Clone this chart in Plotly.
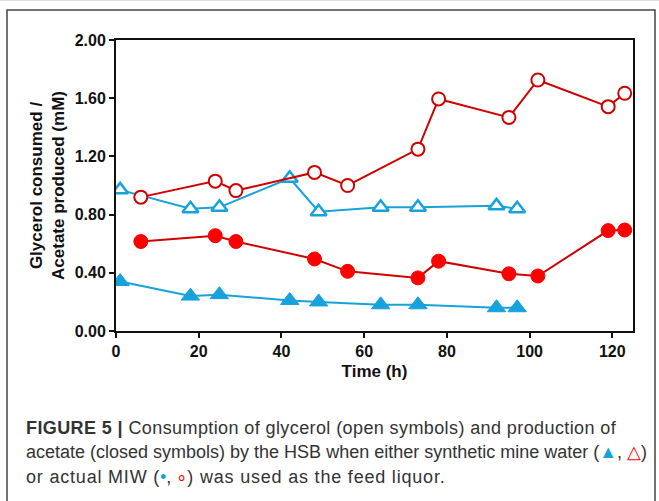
import plotly.graph_objects as go

# Data
time_syn = [1, 18, 25, 42, 49, 64, 73, 92, 97]
glyc_syn = [0.97, 0.84, 0.85, 1.05, 0.82, 0.85, 0.85, 0.86, 0.84]
acet_syn = [0.34, 0.24, 0.25, 0.21, 0.20, 0.18, 0.18, 0.16, 0.16]

time_miw = [6, 24, 29, 48, 56, 73, 78, 95, 102, 119, 123]
glyc_miw = [0.92, 1.03, 0.965, 1.09, 1.00, 1.25, 1.595, 1.468, 1.725, 1.542, 1.634]
acet_miw = [0.615, 0.655, 0.615, 0.495, 0.41, 0.365, 0.48, 0.393, 0.378, 0.69, 0.694]

y_ticks = [0, 0.4, 0.8, 1.2, 1.6, 2.0]
x_ticks = [0, 20, 40, 60, 80, 100, 120]

RED_LINE = "#d00000"
RED_FILL = "#ff0000"
CYAN = "#17a2dc"

W, H = 659, 501
L, R, T, B = 116, 633, 40, 331


def px(x):
    return (x - L) / (R - L)


def py(y):
    return (B - y) / (B - T)


fig = go.Figure()

fig.add_trace(go.Scatter(
    x=time_syn, y=glyc_syn, mode="lines+markers", name="Glycerol (synthetic)",
    line=dict(color=CYAN, width=2),
    marker=dict(symbol="triangle-up", size=14, color="white",
                line=dict(color=CYAN, width=2.5)),
))
fig.add_trace(go.Scatter(
    x=time_syn, y=acet_syn, mode="lines+markers", name="Acetate (synthetic)",
    line=dict(color=CYAN, width=2),
    marker=dict(symbol="triangle-up", size=16, color=CYAN,
                line=dict(color=CYAN, width=1)),
))
fig.add_trace(go.Scatter(
    x=time_miw, y=glyc_miw, mode="lines+markers", name="Glycerol (MIW)",
    line=dict(color=RED_LINE, width=2),
    marker=dict(symbol="circle", size=13, color="white",
                line=dict(color=RED_LINE, width=2)),
))
fig.add_trace(go.Scatter(
    x=time_miw, y=acet_miw, mode="lines+markers", name="Acetate (MIW)",
    line=dict(color=RED_LINE, width=2),
    marker=dict(symbol="circle", size=14, color=RED_FILL,
                line=dict(color=RED_FILL, width=1)),
))

axis_font = dict(family="Arial, Liberation Sans", size=16, color="#111")
title_font = dict(family="Arial, Liberation Sans", size=17, color="#111")

fig.update_layout(
    width=W, height=H,
    margin=dict(l=L, r=W - R, t=T, b=H - B),
    plot_bgcolor="white", paper_bgcolor="white",
    showlegend=False,
    font=dict(family="Arial, Liberation Sans", color="#111"),
    xaxis=dict(
        range=[0, 125], tickvals=x_ticks,
        ticktext=[f"<b>{v}</b>" for v in x_ticks],
        ticks="outside", ticklen=5, tickwidth=1.5, tickcolor="#111",
        showline=True, linecolor="#111", linewidth=2, mirror=True,
        showgrid=False, zeroline=False, tickfont=axis_font,
        title=dict(text="<b>Time (h)</b>", font=title_font, standoff=6),
    ),
    yaxis=dict(
        range=[0, 2.0], tickvals=y_ticks,
        ticktext=[f"<b>{v:.2f}</b>" for v in y_ticks],
        ticks="outside", ticklen=5, tickwidth=1.5, tickcolor="#111",
        showline=True, linecolor="#111", linewidth=2, mirror=True,
        showgrid=False, zeroline=False, tickfont=axis_font,
        title=dict(text="<b>Glycerol consumed /<br>Acetate produced (mM)</b>",
                   font=title_font, standoff=6),
    ),
)

# Outer frame
fig.add_shape(type="rect", xref="paper", yref="paper",
              x0=px(7), x1=px(655), y0=py(530), y1=py(10),
              line=dict(color="#444", width=1.5), fillcolor="rgba(0,0,0,0)", layer="below")
# faint top line
fig.add_shape(type="line", xref="paper", yref="paper",
              x0=px(0), x1=px(659), y0=py(0.5), y1=py(0.5),
              line=dict(color="#ddd", width=1), layer="below")

cap_font = dict(family="Liberation Sans, Arial", size=18, color="#333")
caption = [
    "<span style='letter-spacing:0.4px'><b>FIGURE 5 |</b> Consumption of glycerol (open symbols) and production of</span>",
    "acetate (closed symbols) by the HSB when either synthetic mine water "
    f"(<span style='color:{CYAN}'>▲</span>, <span style='color:{RED_FILL}'>△</span>)",
    f"<span style='letter-spacing:0.8px'>or actual MIW (</span><span style='color:{CYAN}'>•</span>, "
    f"<span style='color:{RED_FILL}'>∘</span><span style='letter-spacing:0.8px'>) was used as the feed liquor.</span>",
]
for i, (line, ypx) in enumerate(zip(caption, [428, 452, 477])):
    fig.add_annotation(text=line, xref="paper", yref="paper",
                       x=px(24), y=py(ypx), xanchor="left", yanchor="middle",
                       showarrow=False, font=cap_font, align="left")

fig.write_html("out.html")
